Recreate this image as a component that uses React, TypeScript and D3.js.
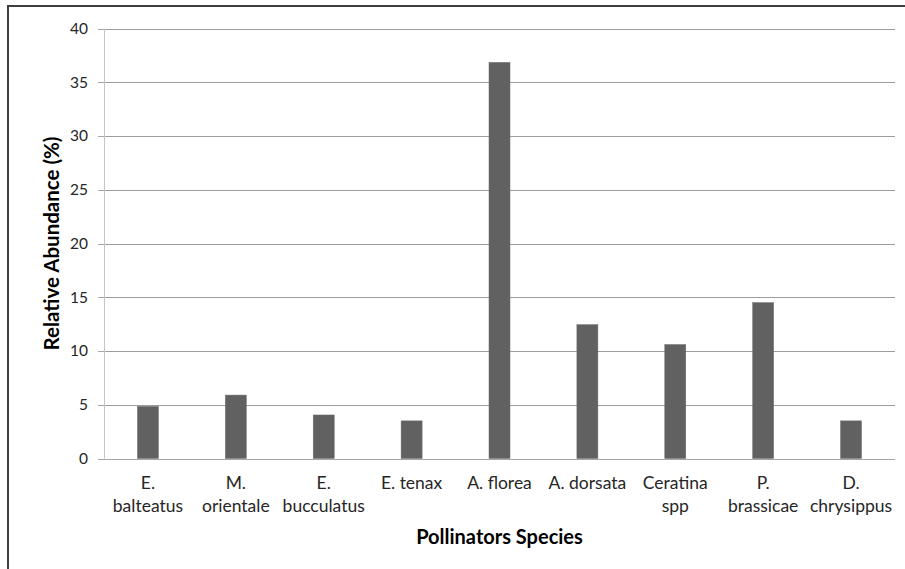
import React from "react";
import * as d3 from "d3";

const categories: string[][] = [
  ["E.", "balteatus"],
  ["M.", "orientale"],
  ["E.", "bucculatus"],
  ["E. tenax"],
  ["A. florea"],
  ["A. dorsata"],
  ["Ceratina", "spp"],
  ["P.", "brassicae"],
  ["D.", "chrysippus"],
];
const values: number[] = [4.85, 5.9, 4.05, 3.5, 36.85, 12.45, 10.6, 14.5, 3.5];
const yTicks: number[] = [0, 5, 10, 15, 20, 25, 30, 35, 40];
const yTitle = "Relative Abundance (%)";
const xTitle = "Pollinators Species";

const W = 905;
const H = 569;
const M = { left: 104, right: 895, top: 28.5, bottom: 458.5 };
const FONT = "Lato, 'Open Sans', sans-serif";

export default function App() {
  const keys = categories.map((_, i) => String(i));
  const x = d3.scaleBand<string>().domain(keys).range([M.left, M.right]).paddingInner(0).paddingOuter(0);
  const y = d3.scaleLinear().domain([0, 40]).range([M.bottom, M.top]);
  const barW = 21;

  return (
    <svg width={W} height={H} style={{ position: "absolute", left: 0, top: 0, background: "#fff" }}>
      <rect x={8} y={6} width={W + 10} height={H + 10} fill="#fff" stroke="#3f3f3f" strokeWidth={2} />
      {yTicks.map((t) => (
        <g key={t}>
          <line x1={M.left} x2={M.right} y1={Math.round(y(t)) + 0.5} y2={Math.round(y(t)) + 0.5} stroke={t === 0 ? "#a6a6a6" : "#9d9d9d"} strokeWidth={1} />
          <line x1={M.left - 6} x2={M.left} y1={Math.round(y(t)) + 0.5} y2={Math.round(y(t)) + 0.5} stroke="#a6a6a6" />
          <text x={88} y={y(t)} dy="0.35em" textAnchor="end" fontFamily={FONT} fontSize={15.5} fill="#262626">
            {t}
          </text>
        </g>
      ))}
      <line x1={M.left + 0.5} x2={M.left + 0.5} y1={M.top} y2={M.bottom} stroke="#c4c4c4" />
      {values.map((v, i) => {
        const cx = (x(String(i)) as number) + x.bandwidth() / 2;
        return (
          <rect key={i} x={cx - barW / 2} y={y(v)} width={barW} height={y(0) - y(v)} fill="#616161" stroke="#6e6e6e" strokeWidth={0.5} />
        );
      })}
      {categories.map((lines, i) => {
        const cx = (x(String(i)) as number) + x.bandwidth() / 2;
        return (
          <text key={i} x={cx} textAnchor="middle" fontFamily={FONT} fontSize={17.5} fill="#262626">
            {lines.map((l, j) => (
              <tspan key={j} x={cx} y={489 + j * 23}>
                {l}
              </tspan>
            ))}
          </text>
        );
      })}
      <text x={(M.left + M.right) / 2} y={544} textAnchor="middle" fontFamily={FONT} fontWeight="bold" fontSize={20} fill="#000">
        {xTitle}
      </text>
      <text transform={`translate(59, ${(M.top + M.bottom) / 2}) rotate(-90)`} textAnchor="middle" fontFamily={FONT} fontWeight="bold" fontSize={20.5} fill="#000">
        {yTitle}
      </text>
    </svg>
  );
}
